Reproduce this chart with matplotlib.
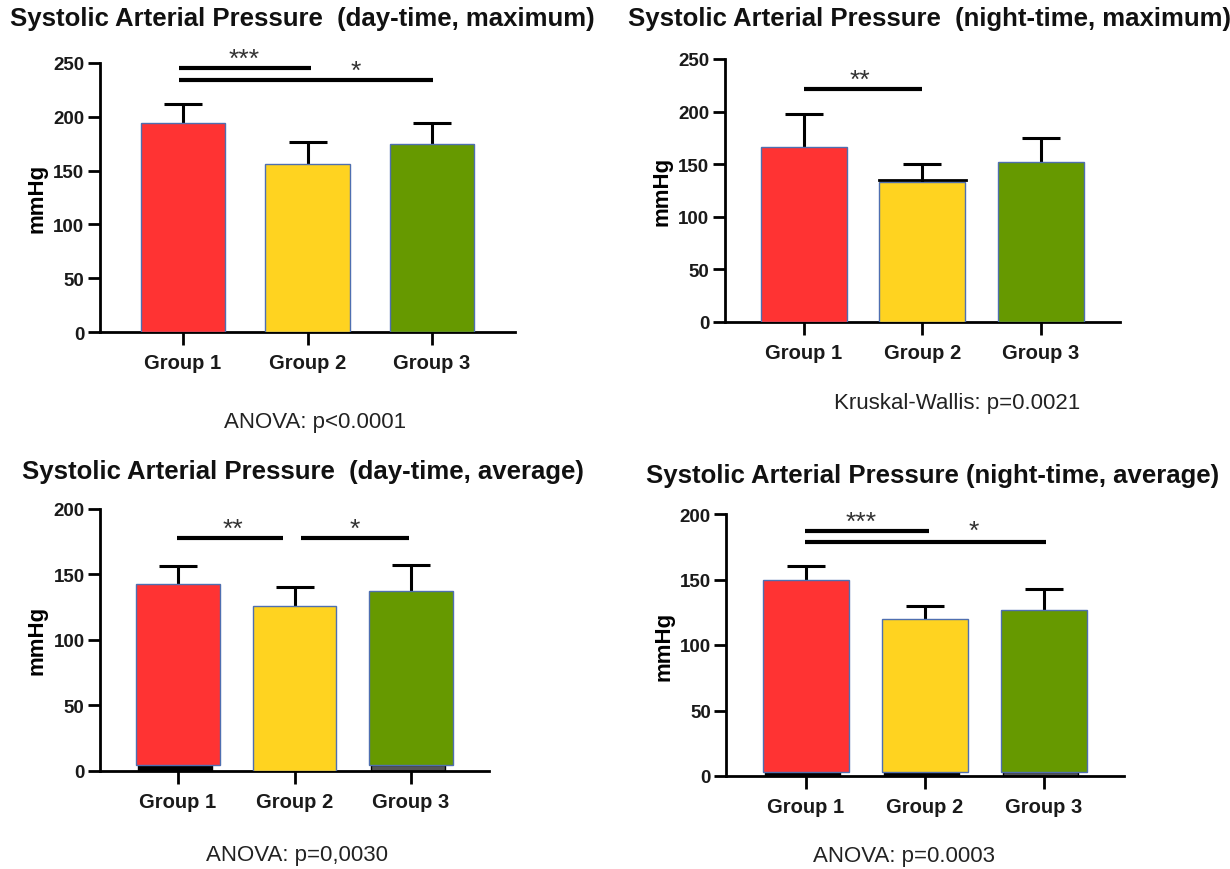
import matplotlib
matplotlib.use('Agg')
import matplotlib.pyplot as plt
import numpy as np

plt.rcParams['font.family'] = ['Liberation Sans', 'DejaVu Sans']

groups = ['Group 1', 'Group 2', 'Group 3']
colors = ['#ff3333', '#ffd320', '#669900']

# day-time, maximum
day_max_mean = [194, 156.5, 175]
day_max_err = [18, 20.5, 19.5]
# night-time, maximum
night_max_mean = [166.5, 133, 152]
night_max_err = [31, 17, 22.5]
# day-time, average
day_avg_mean = [143, 126, 137.5]
day_avg_err = [13.5, 14.5, 19.5]
day_avg_base = [4.5, 0, 4.5]
# night-time, average
night_avg_mean = [149.5, 120, 127]
night_avg_err = [10.5, 10, 15.5]
night_avg_base = [3, 3, 3]

W, H = 1230, 870
fig = plt.figure(figsize=(12.3, 8.7), dpi=100)
fig.patch.set_facecolor('white')

gap = 0.67


def make_axes(x_axis, x_g1, x_g3, y_zero, y_top):
    # place axes from pixel positions
    sp = (x_g3 - x_g1) / 2.0
    left = x_g1 - gap * sp
    right = x_g3 + gap * sp
    return fig.add_axes([left / W, 1 - y_zero / H, (right - left) / W, (y_zero - y_top) / H])


def draw_panel(ax, mean, err, ymax, bw, base=None):
    x = np.arange(1, 4)
    if base is None:
        base = [0, 0, 0]
    heights = [m - b for m, b in zip(mean, base)]
    strip_cols = ['black', 'black', '#555555']
    for i in range(3):
        if base[i] > 0:
            ax.bar(x[i] - bw * 0.04, base[i], width=bw * 0.88, color=strip_cols[i],
                   edgecolor='black', linewidth=1, zorder=2)
    ax.bar(x, heights, bottom=base, width=bw, color=colors, edgecolor='#4f6fb0',
           linewidth=1.0, zorder=3)
    eb = ax.errorbar(x, mean, yerr=[[0, 0, 0], err], fmt='none', ecolor='black',
                     elinewidth=2.2, capsize=14, capthick=2.2, zorder=2)
    eb[1][0].set_visible(False)  # no lower cap
    ax.set_xlim(1 - gap, 3 + gap)
    ax.set_ylim(0, ymax)
    ax.set_yticks(np.arange(0, ymax + 1, 50))
    ax.set_xticks(x)
    ax.set_xticklabels(groups, fontsize=14.5, fontweight='bold', color='#1a1a1a')
    for lab in ax.get_yticklabels():
        lab.set_fontsize(13.5)
        lab.set_fontweight('bold')
        lab.set_color('#1a1a1a')
    ax.spines['top'].set_visible(False)
    ax.spines['right'].set_visible(False)
    ax.spines['left'].set_linewidth(2)
    ax.spines['bottom'].set_linewidth(2)
    ax.tick_params(axis='y', direction='out', length=9, width=2, pad=2)
    ax.tick_params(axis='x', direction='out', length=9, width=2, pad=6)
    ax.set_ylabel('mmHg', fontsize=16, fontweight='bold', labelpad=4)
    ax.set_facecolor('none')


def sig(ax, x0, x1, y, label, tx, ty):
    ax.plot([x0, x1], [y, y], color='black', linewidth=3, solid_capstyle='butt',
            clip_on=False, zorder=4)
    ax.text(tx, ty, label, ha='center', va='center', fontsize=19, color='#333333',
            clip_on=False)


ax1 = make_axes(101, 183, 432, 333, 64)
draw_panel(ax1, day_max_mean, day_max_err, 250, 0.68)
sig(ax1, 0.97, 2.03, 245.4, '***', 1.49, 254)
sig(ax1, 0.97, 3.01, 234.6, '*', 2.39, 243)

ax2 = make_axes(724, 804, 1040.7, 322.7, 60)
draw_panel(ax2, night_max_mean, night_max_err, 250, 0.727)
ax2.plot([1.63, 2.37], [135, 135], color='black', linewidth=2, zorder=4)
sig(ax2, 1.0, 2.0, 221.7, '**', 1.47, 230)

ax3 = make_axes(100, 178, 411, 771.7, 510)
draw_panel(ax3, day_avg_mean, day_avg_err, 200, 0.72, day_avg_base)
sig(ax3, 0.99, 1.90, 178.1, '**', 1.47, 185)
sig(ax3, 2.06, 2.98, 178.1, '*', 2.52, 185)

ax4 = make_axes(728, 806, 1044, 777, 515)
draw_panel(ax4, night_avg_mean, night_avg_err, 200, 0.72, night_avg_base)
sig(ax4, 0.99, 2.03, 186.7, '***', 1.46, 194)
sig(ax4, 0.99, 3.02, 178.8, '*', 2.41, 187)

# titles
title_kw = dict(fontsize=18.5, fontweight='bold', color='#111111', va='center', ha='left')
fig.text(10 / W, 1 - 19 / H, 'Systolic Arterial Pressure  (day-time, maximum)', **title_kw)
fig.text(628 / W, 1 - 19 / H, 'Systolic Arterial Pressure  (night-time, maximum)', **title_kw)
fig.text(22 / W, 1 - 472 / H, 'Systolic Arterial Pressure  (day-time, average)', **title_kw)
fig.text(646 / W, 1 - 476 / H, 'Systolic Arterial Pressure (night-time, average)', **title_kw)

# test results
note_kw = dict(fontsize=16, color='#222222', va='center', ha='center')
fig.text(315 / W, 1 - 423 / H, 'ANOVA: p<0.0001', **note_kw)
fig.text(957 / W, 1 - 404 / H, 'Kruskal-Wallis: p=0.0021', **note_kw)
fig.text(297 / W, 1 - 856 / H, 'ANOVA: p=0,0030', **note_kw)
fig.text(904 / W, 1 - 857 / H, 'ANOVA: p=0.0003', **note_kw)

fig.savefig('out.png', dpi=100, facecolor='white')
